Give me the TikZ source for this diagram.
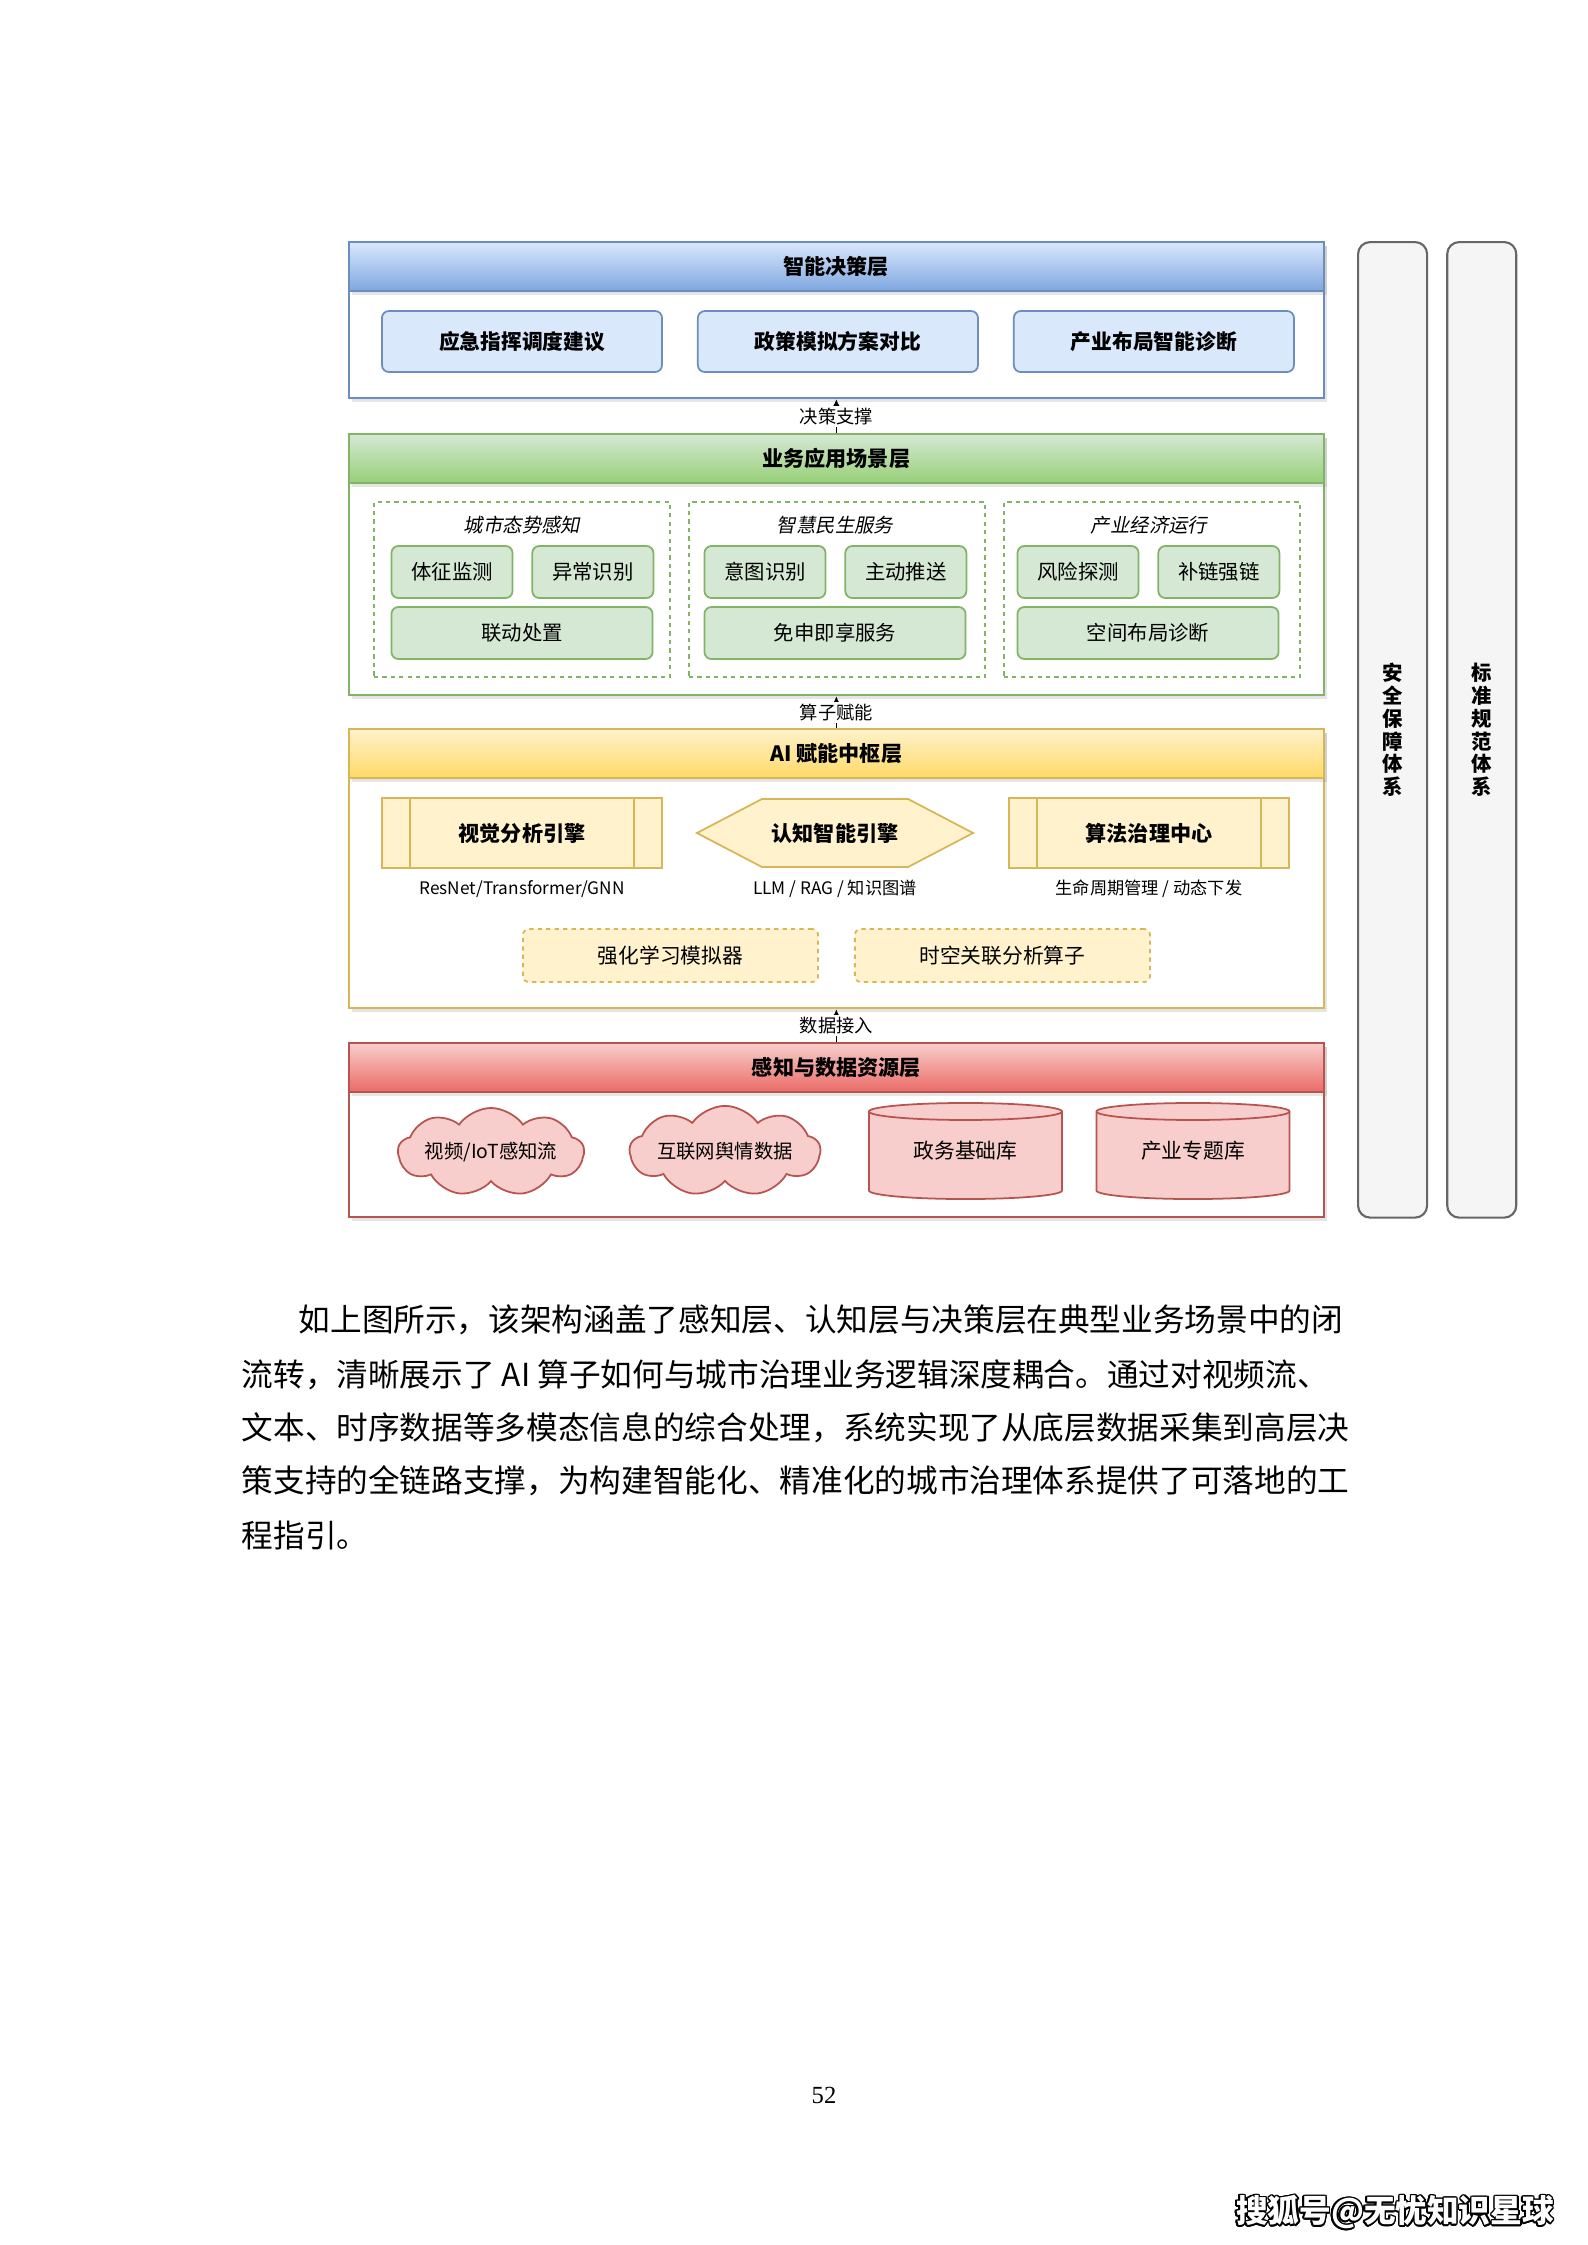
\documentclass[tikz,border=0pt]{standalone}
\usepackage{fontspec}
\setmainfont{Noto Sans CJK SC}
\newfontfamily\slantcjk{Noto Sans CJK SC}[FakeSlant=0.2]
\newfontfamily\pagefont{Liberation Serif}
\usepackage{contour}
\contourlength{0.45pt}
\usetikzlibrary{arrows.meta,positioning,shapes.symbols,shadows}
\definecolor{bluetop}{HTML}{DAE8FC}
\definecolor{bluebot}{HTML}{7EA6E0}
\definecolor{blueline}{HTML}{6C8EBF}
\definecolor{greentop}{HTML}{D5E8D4}
\definecolor{greenbot}{HTML}{97D077}
\definecolor{greenline}{HTML}{82B366}
\definecolor{yellowtop}{HTML}{FFF2CC}
\definecolor{yellowbot}{HTML}{FFD966}
\definecolor{yellowline}{HTML}{D6B656}
\definecolor{redtop}{HTML}{F8CECC}
\definecolor{redbot}{HTML}{EA6B66}
\definecolor{redline}{HTML}{B85450}
\definecolor{sidefill}{HTML}{F5F5F5}
\definecolor{sideline}{HTML}{666666}
\tikzset{
  layerbox/.style={draw, fill=white, line width=0.6pt, anchor=north west, minimum width=9.74cm, inner sep=0pt, drop shadow={opacity=0.2, shadow xshift=0.03cm, shadow yshift=-0.04cm}},
  layerhead/.style={draw, line width=0.6pt, anchor=north west, minimum width=9.74cm, minimum height=0.49cm, inner sep=0pt, font=\fontsize{6}{7}\selectfont\bfseries, drop shadow={opacity=0.2, shadow xshift=0.03cm, shadow yshift=-0.04cm}},
  decbox/.style={draw=blueline, fill=bluetop, line width=0.5pt, rounded corners=0.07cm, minimum width=2.8cm, minimum height=0.61cm, inner sep=0pt, font=\fontsize{5.9}{7}\selectfont\bfseries},
  groupbox/.style={draw=greenline, line width=0.5pt, dash pattern=on 1.2pt off 1.2pt, minimum width=2.96cm, minimum height=1.75cm, inner sep=0pt},
  grouptitle/.style={inner sep=0pt, font=\fontsize{5.5}{6.5}\selectfont\slantcjk},
  appbox/.style={draw=greenline, fill=greentop, line width=0.5pt, rounded corners=0.07cm, minimum width=1.21cm, minimum height=0.52cm, inner sep=0pt, font=\fontsize{5.8}{7}\selectfont},
  procbox/.style={draw=yellowline, fill=yellowtop, line width=0.5pt, minimum width=2.8cm, minimum height=0.7cm, inner sep=0pt, font=\fontsize{6}{7}\selectfont\bfseries,
    path picture={\draw[yellowline, line width=0.5pt] ([xshift=0.28cm]path picture bounding box.north west) -- ([xshift=0.28cm]path picture bounding box.south west);
                  \draw[yellowline, line width=0.5pt] ([xshift=-0.28cm]path picture bounding box.north east) -- ([xshift=-0.28cm]path picture bounding box.south east);}},
  hexbox/.style={minimum width=2.8cm, minimum height=0.7cm, inner sep=0pt, font=\fontsize{6}{7}\selectfont\bfseries,
    path picture={\path[fill=yellowtop, draw=yellowline, line width=0.5pt]
      ([xshift=0.02cm]path picture bounding box.west)
      -- ([xshift=0.67cm, yshift=-0.01cm]path picture bounding box.north west)
      -- ([xshift=-0.67cm, yshift=-0.01cm]path picture bounding box.north east)
      -- ([xshift=-0.02cm]path picture bounding box.east)
      -- ([xshift=-0.67cm, yshift=0.01cm]path picture bounding box.south east)
      -- ([xshift=0.67cm, yshift=0.01cm]path picture bounding box.south west) -- cycle;}},
  tagnote/.style={inner sep=0pt, font=\fontsize{4.9}{6}\selectfont},
  simbox/.style={draw=yellowline, fill=yellowtop, line width=0.5pt, dash pattern=on 1.2pt off 1.2pt, rounded corners=0.06cm, minimum width=2.95cm, minimum height=0.53cm, inner sep=0pt, font=\fontsize{5.9}{7}\selectfont},
  srccloud/.style={cloud, cloud puffs=9, cloud puff arc=110, aspect=3.2, draw=redline, fill=redtop, line width=0.5pt, minimum width=1.8cm, minimum height=0.42cm, inner sep=0pt, font=\fontsize{5.5}{6.5}\selectfont},
  dbnode/.style={minimum width=1.95cm, minimum height=0.98cm, inner sep=0pt, font=\fontsize{5.9}{7}\selectfont,
    path picture={\path[fill=redtop, draw=redline, line width=0.5pt]
      ([xshift=0.01cm, yshift=-0.095cm]path picture bounding box.north west)
      -- ([xshift=0.01cm, yshift=0.095cm]path picture bounding box.south west)
      arc[start angle=180, end angle=360, x radius=0.965cm, y radius=0.085cm]
      -- ([xshift=-0.01cm, yshift=-0.095cm]path picture bounding box.north east)
      arc[start angle=0, end angle=180, x radius=0.965cm, y radius=0.085cm] -- cycle;
      \draw[redline, line width=0.5pt] ([xshift=0.01cm, yshift=-0.095cm]path picture bounding box.north west)
      arc[start angle=180, end angle=360, x radius=0.965cm, y radius=0.085cm];}},
  sidebar/.style={draw=sideline, fill=sidefill, line width=0.6pt, rounded corners=0.12cm, anchor=north west, minimum width=0.69cm, minimum height=9.75cm, inner sep=0pt, align=center, font=\fontsize{5.8}{6.5}\selectfont\bfseries},
  layerlink/.style={-{Latex[length=2.2pt, width=2.2pt]}, line width=0.4pt},
  linklabel/.style={fill=white, inner sep=0.6pt, font=\fontsize{5.2}{6}\selectfont},
  bodyline/.style={anchor=west, inner sep=0pt, font=\fontsize{9}{10}\selectfont}
}
\begin{document}
\begin{tikzpicture}[x=0.01cm, y=-0.01cm]
\useasboundingbox (0,0) rectangle (1587,2245);
\fill[white] (0,0) rectangle (1587,2245);

\node[sidebar] (safe) at (1357,241) {安\\全\\保\\障\\体\\系};
\node[sidebar, right=0.18cm of safe] (norm) {标\\准\\规\\范\\体\\系};

\node[layerbox, draw=blueline, minimum height=1.56cm] (decL) at (348,241) {};
\node[layerhead, draw=blueline, top color=bluetop, bottom color=bluebot] (decH) at (348,241) {智能决策层};
\node[decbox] (cmd) at (522,341.5) {应急指挥调度建议};
\node[decbox, right=0.34cm of cmd] (pol) {政策模拟方案对比};
\node[decbox, right=0.34cm of pol] (diag) {产业布局智能诊断};

\node[layerbox, draw=greenline, minimum height=2.61cm] (appL) at (348,433) {};
\node[layerhead, draw=greenline, top color=greentop, bottom color=greenbot] (appH) at (348,433) {业务应用场景层};
\node[groupbox] (city) at (522,589.5) {};
\node[groupbox, right=0.17cm of city] (life) {};
\node[groupbox, right=0.17cm of life] (econ) {};
\node[grouptitle] (cityT) at (522,525) {城市态势感知};
\node[grouptitle] (lifeT) at (835,525) {智慧民生服务};
\node[grouptitle] (econT) at (1149,525) {产业经济运行};
\node[appbox] (vital) at (452,572) {体征监测};
\node[appbox, right=0.18cm of vital] (anom) {异常识别};
\node[appbox, minimum width=2.61cm] (joint) at (522,633) {联动处置};
\node[appbox] (intent) at (765,572) {意图识别};
\node[appbox, right=0.18cm of intent] (push) {主动推送};
\node[appbox, minimum width=2.61cm] (free) at (835,633) {免申即享服务};
\node[appbox] (risk) at (1078,572) {风险探测};
\node[appbox, right=0.18cm of risk] (chain) {补链强链};
\node[appbox, minimum width=2.61cm] (space) at (1148,633) {空间布局诊断};

\node[layerbox, draw=yellowline, minimum height=2.79cm] (hubL) at (348,728) {};
\node[layerhead, draw=yellowline, top color=yellowtop, bottom color=yellowbot] (hubH) at (348,728) {AI 赋能中枢层};
\node[procbox] (vis) at (522,833) {视觉分析引擎};
\node[hexbox] (cog) at (835,833) {认知智能引擎};
\node[procbox] (algo) at (1149,833) {算法治理中心};
\node[tagnote] (visN) at (522,889) {ResNet/Transformer/GNN};
\node[tagnote] (cogN) at (835,889) {LLM / RAG / 知识图谱};
\node[tagnote] (algoN) at (1149,889) {生命周期管理 / 动态下发};
\node[simbox] (rlsim) at (670.5,955.5) {强化学习模拟器};
\node[simbox, right=0.35cm of rlsim] (stop) {时空关联分析算子};

\node[layerbox, draw=redline, minimum height=1.74cm] (datL) at (348,1042) {};
\node[layerhead, draw=redline, top color=redtop, bottom color=redbot] (datH) at (348,1042) {感知与数据资源层};
\node[srccloud] (iot) at (491,1152) {视频/IoT感知流};
\node[srccloud] (web) at (725,1151) {互联网舆情数据};
\node[dbnode] (govdb) at (965.5,1151) {政务基础库};
\node[dbnode] (inddb) at (1193,1151) {产业专题库};

\draw[layerlink] (appL.north) -- node[linklabel] {决策支撑} (decL.south);
\draw[layerlink] (hubL.north) -- node[linklabel] {算子赋能} (appL.south);
\draw[layerlink] (datL.north) -- node[linklabel] {数据接入} (hubL.south);

\node[bodyline] (l1) at (298,1320) {如上图所示，该架构涵盖了感知层、认知层与决策层在典型业务场景中的闭};
\node[bodyline] (l2) at (241,1375) {流转，清晰展示了 AI 算子如何与城市治理业务逻辑深度耦合。通过对视频流、};
\node[bodyline] (l3) at (241,1428) {文本、时序数据等多模态信息的综合处理，系统实现了从底层数据采集到高层决};
\node[bodyline] (l4) at (241,1481) {策支持的全链路支撑，为构建智能化、精准化的城市治理体系提供了可落地的工};
\node[bodyline] (l5) at (241,1535) {程指引。};

\node[font=\pagefont\fontsize{7}{8}\selectfont] (pgno) at (824,2095) {52};
\node[text=white, font=\fontsize{9}{10}\selectfont\bfseries] (sohu) at (1395,2213) {\contour{black}{搜狐号@无忧知识星球}};
\end{tikzpicture}
\end{document}
